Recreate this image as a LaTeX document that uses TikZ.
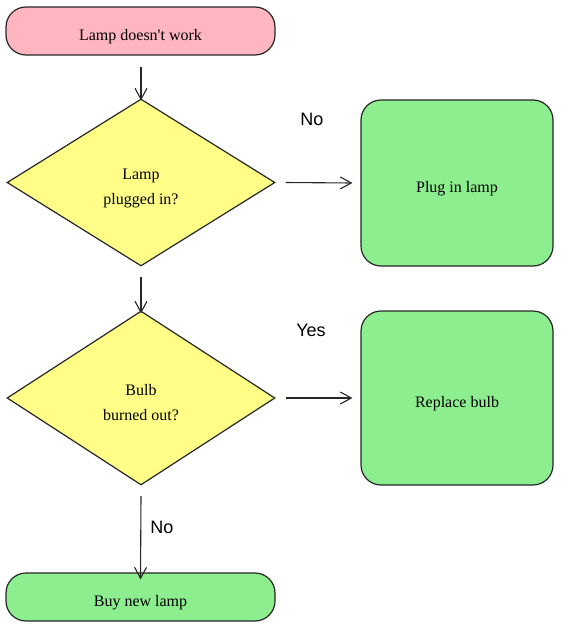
\documentclass[tikz,border=0pt]{standalone}
\usepackage{fontspec}
\setmainfont{Liberation Serif}
\newfontfamily\labelfont{Liberation Sans}
\usetikzlibrary{positioning, arrows.meta, shapes.geometric}
\definecolor{cStart}{HTML}{FFB6C1}
\definecolor{cAction}{HTML}{8CEE8E}
\definecolor{cQuestion}{HTML}{FFFF88}
\definecolor{cLine}{HTML}{262626}
\tikzset{
  termbox/.style={draw=cLine, line width=1.2pt, rounded corners=20pt,
    minimum width=269pt, minimum height=48pt, inner sep=0pt,
    text height=19.5pt, text depth=0pt,
    font=\fontsize{16}{25}\selectfont},
  actionbox/.style={draw=cLine, fill=cAction, line width=1.2pt, rounded corners=20pt,
    minimum width=192pt, minimum height=166pt, inner sep=0pt,
    text height=19.5pt, text depth=0pt,
    font=\fontsize{16}{25}\selectfont},
  questionbox/.style={diamond, draw=cLine, fill=cQuestion, line width=1.2pt,
    minimum width=268pt, minimum height=167pt, inner sep=0pt, aspect=1.6,
    text height=44pt, text depth=0pt,
    align=center, font=\fontsize{16}{25}\selectfont},
  flow/.style={-{Straight Barb[length=11pt, width=12pt, line width=1.1pt]},
    draw=cLine, line width=1.1pt},
  flowlabel/.style={font=\labelfont\fontsize{18}{20}\selectfont, text=black},
}
\begin{document}
\begin{tikzpicture}[x=1pt, y=-1pt]
  \useasboundingbox (0,0) rectangle (560,626);
  % start and questions
  \node[termbox, fill=cStart] (start) at (140.5, 31) {Lamp doesn\textquotesingle t work};
  \node[questionbox] (plugged) at (141, 182.5) {Lamp\\plugged in?};
  \node[questionbox, minimum height=174pt] (burned) at (141, 398) {Bulb\\burned out?};
  \node[termbox, fill=cAction] (buy) at (140.5, 597) {Buy new lamp};
  % actions
  \node[actionbox] (plugin) at (457, 183) {Plug in lamp};
  \node[actionbox, minimum height=174pt] (replace) at (457, 398) {Replace bulb};
  % connectors
  \coordinate (a1) at (141, 67);
  \coordinate (a2) at (141, 277);
  \coordinate (a3) at (141, 496);
  \draw[flow] (a1) -- ([yshift=-2pt]plugged.north);
  \draw[flow] (a2) -- ([yshift=-3pt]burned.north);
  \draw[flow] (a3) -- ([yshift=-7pt]buy.north);
  \draw[flow] ([xshift=10pt]plugged.east) -- ([xshift=-8pt]plugin.west);
  \draw[flow] ([xshift=10pt]burned.east) -- ([xshift=-8pt]replace.west);
  % labels
  \node[flowlabel] (lblNo1) at (312, 119) {No};
  \node[flowlabel] (lblYes) at (311, 330) {Yes};
  \node[flowlabel] (lblNo2) at (162, 527) {No};
\end{tikzpicture}
\end{document}
